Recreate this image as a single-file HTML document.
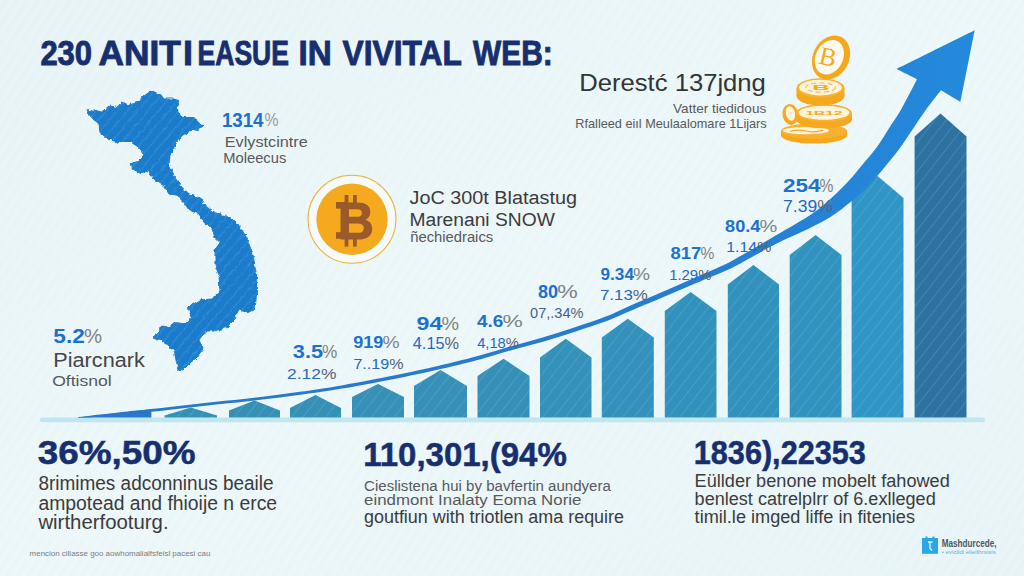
<!DOCTYPE html>
<html lang="en"><head><meta charset="utf-8"><title>230 ANITIEASUE IN VIVITAL WEB</title>
<style>
html,body{margin:0;padding:0;background:#ecf6f9;}
body{width:1024px;height:576px;overflow:hidden;font-family:"Liberation Sans", sans-serif;}
svg{display:block;}
text{white-space:pre;}
</style></head><body>
<svg width="1024" height="576" viewBox="0 0 1024 576" font-family='"Liberation Sans", sans-serif'>
<defs>
<linearGradient id="bg" x1="0" y1="0" x2="1" y2="1">
<stop offset="0" stop-color="#e7f3f7"/><stop offset="0.5" stop-color="#ecf7f9"/><stop offset="1" stop-color="#e8f4f7"/>
</linearGradient>
<pattern id="hatch" width="9" height="9" patternUnits="userSpaceOnUse" patternTransform="rotate(-58)">
<rect x="0" y="0" width="9" height="2.2" fill="#ffffff" opacity="0.14"/>
<rect x="0" y="4.5" width="9" height="1" fill="#d5e8ef" opacity="0.10"/>
</pattern>
<pattern id="hatchbar" width="9" height="9" patternUnits="userSpaceOnUse" patternTransform="rotate(-52)">
<rect x="0" y="0" width="9" height="0.8" fill="#a8e4f6" opacity="0.2"/>
</pattern>
<linearGradient id="arrowg" gradientUnits="userSpaceOnUse" x1="80" y1="0" x2="975" y2="0">
<stop offset="0" stop-color="#2a76c9"/><stop offset="0.7" stop-color="#267dd2"/><stop offset="1" stop-color="#248adc"/>
</linearGradient>
<pattern id="hatchmap" width="8" height="8" patternUnits="userSpaceOnUse" patternTransform="rotate(-50)">
<rect x="0" y="0" width="8" height="1.1" fill="#7fc0f0" opacity="0.22"/>
</pattern>
<filter id="rough" x="-5%" y="-5%" width="110%" height="110%">
<feTurbulence type="fractalNoise" baseFrequency="0.22" numOctaves="2" seed="7" result="n"/>
<feDisplacementMap in="SourceGraphic" in2="n" scale="4.5" xChannelSelector="R" yChannelSelector="G"/>
</filter>
</defs>
<rect width="1024" height="576" fill="url(#bg)"/>
<rect width="1024" height="576" fill="url(#hatch)"/>
<g font-weight="bold" fill="#172f6e">
<text x="40.4" y="64.5" font-size="34.2" fill="#172f6e" font-weight="bold" textLength="51.7" lengthAdjust="spacingAndGlyphs" stroke="#172f6e" stroke-width="0.9">230</text>
<text x="98.6" y="64.5" font-size="34.2" fill="#172f6e" font-weight="bold" textLength="82.3" lengthAdjust="spacingAndGlyphs" stroke="#172f6e" stroke-width="0.9">ANIT</text>
<text x="182.9" y="64.5" font-size="34.2" fill="#172f6e" font-weight="bold" textLength="10.0" lengthAdjust="spacingAndGlyphs" stroke="#172f6e" stroke-width="0.9">I</text>
<text x="197.6" y="64.5" font-size="34.2" fill="#172f6e" font-weight="bold" textLength="91.3" lengthAdjust="spacingAndGlyphs" stroke="#172f6e" stroke-width="0.9">EASUE</text>
<text x="298.6" y="64.5" font-size="34.2" fill="#172f6e" font-weight="bold" textLength="33.3" lengthAdjust="spacingAndGlyphs" stroke="#172f6e" stroke-width="0.9">IN</text>
<text x="342.6" y="64.5" font-size="34.2" fill="#172f6e" font-weight="bold" textLength="119.3" lengthAdjust="spacingAndGlyphs" stroke="#172f6e" stroke-width="0.9">VIVITAL</text>
<text x="473.1" y="64.5" font-size="34.2" fill="#172f6e" font-weight="bold" textLength="79.6" lengthAdjust="spacingAndGlyphs" stroke="#172f6e" stroke-width="0.9">WEB:</text>
</g>
<polygon points="86.5,111.0 94.0,110.0 101.5,112.0 109.0,106.0 118.0,107.5 120.0,103.0 129.0,105.0 139.0,102.0 144.0,96.0 151.5,90.5 160.0,94.0 164.0,99.0 174.0,99.0 180.0,101.0 176.5,107.5 176.5,112.5 184.0,117.5 194.0,117.5 200.0,124.0 205.0,124.5 199.0,129.0 189.0,131.0 181.5,136.0 176.5,142.5 170.0,155.0 169.0,165.0 174.0,175.0 180.0,185.0 189.0,195.0 200.0,197.5 204.0,205.0 214.0,212.5 226.5,216.0 239.0,225.0 246.5,237.5 253.0,255.0 256.5,275.0 256.5,295.0 255.0,309.0 248.0,312.5 239.0,310.0 234.0,320.0 226.5,327.5 214.0,331.0 205.0,331.0 199.0,340.0 203.0,349.0 196.5,357.5 189.0,364.0 183.0,370.0 178.0,369.0 176.5,362.5 174.0,350.0 163.0,341.0 153.0,337.0 159.0,332.5 161.5,326.0 169.0,327.5 174.0,322.5 186.5,324.0 191.5,317.5 188.0,307.5 200.0,300.0 211.5,299.0 220.0,291.0 219.0,275.0 215.0,265.0 215.0,250.0 220.0,242.5 215.0,237.5 211.5,227.5 204.0,222.5 199.0,214.0 189.0,210.0 184.0,202.5 176.5,195.0 169.0,194.0 164.0,186.0 154.0,179.0 148.0,171.0 141.5,174.0 133.0,169.0 130.0,164.0 139.0,161.0 145.0,155.0 139.0,147.5 131.5,142.5 119.0,142.5 108.0,139.0 100.0,132.5 99.0,124.0 91.5,117.5" fill="#1e7ccc" stroke="#1e7ccc" stroke-width="1" stroke-linejoin="round" filter="url(#rough)"/>
<polygon points="86.5,111.0 94.0,110.0 101.5,112.0 109.0,106.0 118.0,107.5 120.0,103.0 129.0,105.0 139.0,102.0 144.0,96.0 151.5,90.5 160.0,94.0 164.0,99.0 174.0,99.0 180.0,101.0 176.5,107.5 176.5,112.5 184.0,117.5 194.0,117.5 200.0,124.0 205.0,124.5 199.0,129.0 189.0,131.0 181.5,136.0 176.5,142.5 170.0,155.0 169.0,165.0 174.0,175.0 180.0,185.0 189.0,195.0 200.0,197.5 204.0,205.0 214.0,212.5 226.5,216.0 239.0,225.0 246.5,237.5 253.0,255.0 256.5,275.0 256.5,295.0 255.0,309.0 248.0,312.5 239.0,310.0 234.0,320.0 226.5,327.5 214.0,331.0 205.0,331.0 199.0,340.0 203.0,349.0 196.5,357.5 189.0,364.0 183.0,370.0 178.0,369.0 176.5,362.5 174.0,350.0 163.0,341.0 153.0,337.0 159.0,332.5 161.5,326.0 169.0,327.5 174.0,322.5 186.5,324.0 191.5,317.5 188.0,307.5 200.0,300.0 211.5,299.0 220.0,291.0 219.0,275.0 215.0,265.0 215.0,250.0 220.0,242.5 215.0,237.5 211.5,227.5 204.0,222.5 199.0,214.0 189.0,210.0 184.0,202.5 176.5,195.0 169.0,194.0 164.0,186.0 154.0,179.0 148.0,171.0 141.5,174.0 133.0,169.0 130.0,164.0 139.0,161.0 145.0,155.0 139.0,147.5 131.5,142.5 119.0,142.5 108.0,139.0 100.0,132.5 99.0,124.0 91.5,117.5" fill="url(#hatchmap)" filter="url(#rough)"/>
<rect x="40" y="417.5" width="945" height="4.7" rx="2.3" fill="#c0e6ef"/>
<polygon points="164.5,417.5 164.5,415.5 190.8,407.4 217.0,415.5 217.0,417.5" fill="#3690b6"/>
<polygon points="164.5,417.5 164.5,415.5 190.8,407.4 217.0,415.5 217.0,417.5" fill="url(#hatchbar)"/>
<polygon points="229.0,417.5 229.0,410.6 254.5,400.5 280.0,410.6 280.0,417.5" fill="#3690b6"/>
<polygon points="229.0,417.5 229.0,410.6 254.5,400.5 280.0,410.6 280.0,417.5" fill="url(#hatchbar)"/>
<polygon points="290.0,417.5 290.0,408.0 315.5,395.0 341.0,408.0 341.0,417.5" fill="#3690b6"/>
<polygon points="290.0,417.5 290.0,408.0 315.5,395.0 341.0,408.0 341.0,417.5" fill="url(#hatchbar)"/>
<polygon points="352.0,417.5 352.0,397.0 378.0,384.0 404.0,397.0 404.0,417.5" fill="#3690b7"/>
<polygon points="352.0,417.5 352.0,397.0 378.0,384.0 404.0,397.0 404.0,417.5" fill="url(#hatchbar)"/>
<polygon points="414.0,417.5 414.0,386.0 440.5,370.0 467.0,386.0 467.0,417.5" fill="#3690b7"/>
<polygon points="414.0,417.5 414.0,386.0 440.5,370.0 467.0,386.0 467.0,417.5" fill="url(#hatchbar)"/>
<polygon points="477.5,417.5 477.5,376.0 503.5,358.8 529.5,376.0 529.5,417.5" fill="#3590b8"/>
<polygon points="477.5,417.5 477.5,376.0 503.5,358.8 529.5,376.0 529.5,417.5" fill="url(#hatchbar)"/>
<polygon points="540.0,417.5 540.0,357.5 565.8,338.8 591.5,357.5 591.5,417.5" fill="#3491b9"/>
<polygon points="540.0,417.5 540.0,357.5 565.8,338.8 591.5,357.5 591.5,417.5" fill="url(#hatchbar)"/>
<polygon points="601.8,417.5 601.8,337.5 627.8,318.8 653.8,337.5 653.8,417.5" fill="#3391bb"/>
<polygon points="601.8,417.5 601.8,337.5 627.8,318.8 653.8,337.5 653.8,417.5" fill="url(#hatchbar)"/>
<polygon points="664.8,417.5 664.8,311.0 690.6,292.0 716.5,311.0 716.5,417.5" fill="#3292bc"/>
<polygon points="664.8,417.5 664.8,311.0 690.6,292.0 716.5,311.0 716.5,417.5" fill="url(#hatchbar)"/>
<polygon points="727.8,417.5 727.8,284.6 753.4,265.0 779.0,284.6 779.0,417.5" fill="#3292bd"/>
<polygon points="727.8,417.5 727.8,284.6 753.4,265.0 779.0,284.6 779.0,417.5" fill="url(#hatchbar)"/>
<polygon points="789.7,417.5 789.7,255.0 815.6,235.0 841.5,255.0 841.5,417.5" fill="#3293c0"/>
<polygon points="789.7,417.5 789.7,255.0 815.6,235.0 841.5,255.0 841.5,417.5" fill="url(#hatchbar)"/>
<polygon points="851.6,417.5 851.6,198.0 877.5,176.0 903.5,198.0 903.5,417.5" fill="#3195c6"/>
<polygon points="851.6,417.5 851.6,198.0 877.5,176.0 903.5,198.0 903.5,417.5" fill="url(#hatchbar)"/>
<polygon points="914.6,417.5 914.6,136.4 940.5,113.5 966.5,136.4 966.5,417.5" fill="#2e72a1"/>
<polygon points="914.6,417.5 914.6,136.4 940.5,113.5 966.5,136.4 966.5,417.5" fill="url(#hatchbar)"/>
<polygon points="79,417.5 151.4,409.3 151.4,417.5" fill="#2a76c9"/>
<path d="M79.0,417.2C79.0,417.2 92.2,415.5 99.9,414.6C107.6,413.7 116.3,412.6 124.9,411.7C133.4,410.8 138.7,410.4 151.2,409.0C163.8,407.6 183.3,405.3 200.4,403.4C217.6,401.5 237.8,399.6 254.3,397.7C270.9,395.7 285.2,393.9 299.8,391.8C314.4,389.8 324.2,388.5 341.7,385.4C359.2,382.3 386.7,377.0 404.7,373.3C422.6,369.6 436.9,366.1 449.6,363.2C462.2,360.2 470.1,358.2 480.5,355.3C490.9,352.4 501.5,348.9 512.0,345.9C522.4,342.9 533.0,340.3 543.4,337.2C553.8,334.2 564.1,330.8 574.3,327.4C584.6,324.0 595.9,320.4 605.2,316.8C614.5,313.2 620.7,309.8 630.0,305.7C639.4,301.7 651.0,296.8 661.5,292.3C671.9,287.7 682.5,282.9 692.9,278.4C703.3,273.8 717.0,268.0 723.8,264.9C730.5,261.9 725.7,264.4 733.5,260.0C741.3,255.6 757.8,246.1 770.7,238.5C783.6,230.9 800.8,221.3 811.0,214.5C821.2,207.7 825.7,203.1 832.0,197.5C838.3,191.9 843.6,186.4 848.8,180.8C854.0,175.2 858.1,169.9 863.0,164.0C867.9,158.1 873.5,151.6 878.0,145.4C882.5,139.2 886.2,132.6 890.0,126.7C893.8,120.8 896.3,117.9 900.8,110.0C905.3,102.1 917.0,79.2 917.0,79.2C917.0,79.2 896.6,69.0 896.6,69.0C896.6,69.0 974.7,30.3 974.7,30.3C974.7,30.3 960.6,101.9 960.6,101.9C960.6,101.9 941.0,90.3 941.0,90.3C941.0,90.3 930.5,103.6 925.8,110.0C921.1,116.4 917.5,122.2 913.0,128.8C908.5,135.4 903.6,143.1 898.8,149.6C894.0,156.1 889.2,161.8 884.0,168.0C878.8,174.2 873.0,181.4 867.5,187.0C862.0,192.6 856.7,196.9 850.8,201.7C844.9,206.5 839.1,211.4 832.0,216.0C824.9,220.6 817.6,224.2 808.0,229.0C798.4,233.8 786.2,238.6 774.3,244.7C762.4,250.8 744.5,261.3 736.5,265.6C728.5,269.9 733.1,267.5 726.2,270.5C719.3,273.5 705.6,279.2 695.1,283.6C684.7,288.1 674.1,292.7 663.5,297.1C653.0,301.6 641.4,306.3 632.0,310.3C622.5,314.2 616.2,317.5 606.8,321.0C597.4,324.5 586.0,328.0 575.7,331.4C565.3,334.8 555.0,338.1 544.6,341.2C534.1,344.2 523.6,346.7 513.0,349.7C502.5,352.7 492.0,356.2 481.5,359.1C471.1,361.9 463.1,363.9 450.4,366.8C437.7,369.8 423.4,373.1 405.3,376.7C387.3,380.3 359.8,385.6 342.3,388.6C324.8,391.6 314.8,392.8 300.2,394.8C285.6,396.8 271.2,398.6 254.7,400.5C238.1,402.4 217.9,404.3 200.8,406.2C183.6,408.1 164.2,410.4 151.6,411.8C138.9,413.1 133.7,413.5 125.1,414.3C116.6,415.1 107.8,416.0 100.1,416.6C92.4,417.2 82.6,417.9 79.0,418.0C75.5,418.1 79.0,417.2 79.0,417.2Z" fill="url(#arrowg)"/>
<circle cx="352" cy="219.3" r="44" fill="#f5fafb" stroke="#f2b13a" stroke-width="1.1"/>
<circle cx="352" cy="219.3" r="35.7" fill="#f5a91e"/>
<g fill="#9b5a2a">
<rect x="344.6" y="195" width="3.8" height="8"/><rect x="353" y="195" width="3.8" height="8"/>
<rect x="344.6" y="238" width="3.8" height="8.6"/><rect x="353" y="238" width="3.8" height="8.6"/>
<rect x="336" y="202" width="9" height="6.6"/><rect x="336" y="232.2" width="9" height="6.6"/>
</g>
<text x="337.7" y="238.8" font-size="51.5" fill="#9b5a2a" font-weight="bold" textLength="36.2" lengthAdjust="spacingAndGlyphs" stroke="#9b5a2a" stroke-width="1.2">B</text>
<g>
<rect x="781" y="131" width="66" height="4.5" fill="#f6a81c"/>
<ellipse cx="814" cy="135.5" rx="33" ry="8" fill="#f6a81c"/>
<ellipse cx="814" cy="131" rx="33" ry="7.6" fill="#f8b030"/>
<ellipse cx="806" cy="130.6" rx="23" ry="3.6" fill="#fef4dc"/>
<path d="M790 131.5q8 -2.5 16 -0.5t17 -0.6" stroke="#f6a81c" stroke-width="1.1" fill="none"/>
<ellipse cx="790.5" cy="114.5" rx="8" ry="10.5" fill="#f6a81c" transform="rotate(-12 790.5 114.5)"/>
<ellipse cx="790.5" cy="113.5" rx="4.6" ry="7.4" fill="#fef4dc" transform="rotate(-12 790.5 113.5)"/>
<rect x="796" y="113" width="56" height="6.5" fill="#f6a81c"/>
<ellipse cx="824" cy="119.5" rx="28" ry="8.8" fill="#f6a81c"/>
<ellipse cx="824" cy="113" rx="28" ry="8.8" fill="#f8b030"/>
<ellipse cx="824" cy="112.7" rx="25.4" ry="7" fill="#fef4dc"/>
<text x="805.4" y="116.0" font-size="11" fill="#f6a81c" font-weight="bold" textLength="37.2" lengthAdjust="spacingAndGlyphs" transform="translate(0 51) scale(1 0.55)">1B12</text>
<rect x="796.5" y="88" width="48" height="8" fill="#f6a81c"/>
<ellipse cx="820.5" cy="96" rx="24" ry="9.4" fill="#f6a81c"/>
<ellipse cx="820.5" cy="88" rx="24" ry="9.7" fill="#f8b030"/>
<ellipse cx="820.5" cy="87.6" rx="21.4" ry="7.8" fill="#fef4dc"/>
<ellipse cx="820.5" cy="87.6" rx="15" ry="4.6" fill="none" stroke="#f8b030" stroke-width="1" stroke-dasharray="5 3"/>
<text x="812.3" y="92.0" font-size="13" fill="#f6a81c" font-weight="bold" textLength="17.4" lengthAdjust="spacingAndGlyphs" transform="translate(0 39.5) scale(1 0.55)">B</text>
<g transform="rotate(27 831 57.5)">
<ellipse cx="831" cy="57.5" rx="18" ry="23" fill="#f6a81c"/>
<ellipse cx="829.4" cy="58" rx="13.6" ry="18" fill="#fffaf0"/>
</g>
<text x="819.5" y="65.5" font-family='"Liberation Serif", serif' font-size="25.5" fill="#f6a81c" transform="rotate(13 828 57)">B</text>
</g>
<text x="579.2" y="91.3" font-size="24.5" fill="#343436" font-weight="normal" textLength="186.7" lengthAdjust="spacingAndGlyphs">Derestć 137jdng</text>
<text x="673.1" y="112.5" font-size="13" fill="#58595b" font-weight="normal" textLength="93.1" lengthAdjust="spacingAndGlyphs">Vatter tiedidous</text>
<text x="575.3" y="128.3" font-size="13" fill="#58595b" font-weight="normal" textLength="191.4" lengthAdjust="spacingAndGlyphs">Rfalleed eiıl Meulaalomare 1Lijars</text>
<text x="409.5" y="203.8" font-size="18" fill="#3b3b3d" font-weight="normal" textLength="167.5" lengthAdjust="spacingAndGlyphs">JoC 300t Blatastug</text>
<text x="409.5" y="225.5" font-size="18" fill="#3b3b3d" font-weight="normal" textLength="145.3" lengthAdjust="spacingAndGlyphs">Marenani SNOW</text>
<text x="410.2" y="242.0" font-size="14" fill="#58595b" font-weight="normal" textLength="83.0" lengthAdjust="spacingAndGlyphs">ñechiedraics</text>
<text x="221.9" y="127.0" font-size="19.5" fill="#1c70cf" font-weight="bold" textLength="41.6" lengthAdjust="spacingAndGlyphs">1314</text>
<text x="264.6" y="126.0" font-size="19" fill="#9a9c9f" font-weight="normal" textLength="14.0" lengthAdjust="spacingAndGlyphs">%</text>
<text x="224.8" y="147.0" font-size="14.8" fill="#58595b" font-weight="normal" textLength="83.0" lengthAdjust="spacingAndGlyphs">Evlystcintre</text>
<text x="223.2" y="162.5" font-size="14" fill="#58595b" font-weight="normal" textLength="63.1" lengthAdjust="spacingAndGlyphs">Moleecus</text>
<text x="53.3" y="343.4" font-size="19.5" fill="#1c70cf" font-weight="bold" textLength="31.5" lengthAdjust="spacingAndGlyphs">5.2</text>
<text x="83.9" y="343.4" font-size="19.5" fill="#808285" font-weight="normal" textLength="18.1" lengthAdjust="spacingAndGlyphs">%</text>
<text x="53.3" y="366.9" font-size="19.4" fill="#454547" font-weight="normal" textLength="91.5" lengthAdjust="spacingAndGlyphs">Piarcnark</text>
<text x="52.2" y="385.6" font-size="14" fill="#58595b" font-weight="normal" textLength="59.5" lengthAdjust="spacingAndGlyphs">Oftisnol</text>
<text x="292.8" y="358.3" font-size="17.9" fill="#1c70cf" font-weight="bold" textLength="30.2" lengthAdjust="spacingAndGlyphs">3.5</text>
<text x="322.0" y="358.3" font-size="17.9" fill="#808285" font-weight="normal" textLength="15.3" lengthAdjust="spacingAndGlyphs">%</text>
<text x="287.0" y="379.4" font-size="15.3" fill="#2467c4" textLength="49.4" lengthAdjust="spacingAndGlyphs">2.12<tspan fill="#5b626e">%</tspan></text>
<text x="353.3" y="347.8" font-size="16.8" fill="#1c70cf" font-weight="bold" textLength="30.1" lengthAdjust="spacingAndGlyphs">919</text>
<text x="382.6" y="347.8" font-size="16.8" fill="#808285" font-weight="normal" textLength="17.1" lengthAdjust="spacingAndGlyphs">%</text>
<text x="353.4" y="369.3" font-size="15.3" fill="#2467c4" textLength="50.1" lengthAdjust="spacingAndGlyphs">7..19<tspan fill="#5b626e">%</tspan></text>
<text x="416.6" y="329.8" font-size="17.7" fill="#1c70cf" font-weight="bold" textLength="25.8" lengthAdjust="spacingAndGlyphs">94</text>
<text x="441.5" y="329.8" font-size="17.7" fill="#808285" font-weight="normal" textLength="17.6" lengthAdjust="spacingAndGlyphs">%</text>
<text x="412.8" y="349.3" font-size="15.6" fill="#2467c4" textLength="46.2" lengthAdjust="spacingAndGlyphs">4.15<tspan fill="#5b626e">%</tspan></text>
<text x="477.1" y="327.0" font-size="16.6" fill="#1c70cf" font-weight="bold" textLength="26.3" lengthAdjust="spacingAndGlyphs">4.6</text>
<text x="502.6" y="327.0" font-size="16.6" fill="#808285" font-weight="normal" textLength="20.3" lengthAdjust="spacingAndGlyphs">%</text>
<text x="477.2" y="348.3" font-size="15" fill="#2467c4" textLength="41.7" lengthAdjust="spacingAndGlyphs">4,18<tspan fill="#5b626e">%</tspan></text>
<text x="538.0" y="297.8" font-size="17.5" fill="#1c70cf" font-weight="bold" textLength="20.1" lengthAdjust="spacingAndGlyphs">80</text>
<text x="557.2" y="297.8" font-size="17.5" fill="#808285" font-weight="normal" textLength="20.5" lengthAdjust="spacingAndGlyphs">%</text>
<text x="530.1" y="318.0" font-size="15" fill="#3d5f96" textLength="53.4" lengthAdjust="spacingAndGlyphs">07,.34<tspan fill="#5b626e">%</tspan></text>
<text x="600.6" y="280.4" font-size="16" fill="#1c70cf" font-weight="bold" textLength="33.3" lengthAdjust="spacingAndGlyphs">9.34</text>
<text x="633.1" y="280.4" font-size="16" fill="#808285" font-weight="normal" textLength="17.0" lengthAdjust="spacingAndGlyphs">%</text>
<text x="600.0" y="300.2" font-size="14.3" fill="#2467c4" textLength="47.8" lengthAdjust="spacingAndGlyphs">7.13<tspan fill="#5b626e">%</tspan></text>
<text x="670.4" y="259.4" font-size="16.4" fill="#1c70cf" font-weight="bold" textLength="30.8" lengthAdjust="spacingAndGlyphs">817</text>
<text x="700.4" y="259.4" font-size="16.4" fill="#808285" font-weight="normal" textLength="13.9" lengthAdjust="spacingAndGlyphs">%</text>
<text x="669.2" y="279.8" font-size="14.4" fill="#2467c4" textLength="42.2" lengthAdjust="spacingAndGlyphs">1.29<tspan fill="#5b626e">%</tspan></text>
<text x="725.1" y="232.0" font-size="17" fill="#1c70cf" font-weight="bold" textLength="35.3" lengthAdjust="spacingAndGlyphs">80.4</text>
<text x="759.5" y="232.0" font-size="17" fill="#808285" font-weight="normal" textLength="17.8" lengthAdjust="spacingAndGlyphs">%</text>
<text x="726.2" y="251.7" font-size="14" fill="#2467c4" textLength="45.1" lengthAdjust="spacingAndGlyphs">1.14<tspan fill="#5b626e">%</tspan></text>
<text x="783.0" y="191.8" font-size="18" fill="#1c70cf" font-weight="bold" textLength="37.6" lengthAdjust="spacingAndGlyphs">254</text>
<text x="819.6" y="191.8" font-size="18" fill="#808285" font-weight="normal" textLength="13.9" lengthAdjust="spacingAndGlyphs">%</text>
<text x="783.1" y="212.2" font-size="16" fill="#2467c4" textLength="49.8" lengthAdjust="spacingAndGlyphs">7.39<tspan fill="#5b626e">%</tspan></text>
<text x="37.7" y="463.8" font-size="32.5" fill="#172f6e" font-weight="bold" textLength="157.9" lengthAdjust="spacingAndGlyphs" stroke="#172f6e" stroke-width="0.5">36%,50%</text>
<text x="38.4" y="490.0" font-size="19.6" fill="#3b3b3d" font-weight="normal" textLength="235.2" lengthAdjust="spacingAndGlyphs">8rimimes adconninus beaile</text>
<text x="38.4" y="509.5" font-size="19.6" fill="#3b3b3d" font-weight="normal" textLength="238.7" lengthAdjust="spacingAndGlyphs">ampotead and fhioije n erce</text>
<text x="38.4" y="528.8" font-size="19.6" fill="#3b3b3d" font-weight="normal" textLength="130.2" lengthAdjust="spacingAndGlyphs">wirtherfooturg.</text>
<text x="29.6" y="556.0" font-size="7.5" fill="#7a7c80" font-weight="normal" textLength="180.8" lengthAdjust="spacingAndGlyphs">mencion cillasse goo aowhomalialfsfeisl pacesi cau</text>
<text x="363.2" y="465.6" font-size="32.5" fill="#172f6e" font-weight="bold" textLength="203.6" lengthAdjust="spacingAndGlyphs" stroke="#172f6e" stroke-width="0.5">110,301,(94%</text>
<text x="364.1" y="491.3" font-size="15.5" fill="#58595b" font-weight="normal" textLength="246.7" lengthAdjust="spacingAndGlyphs">Cieslistena hui by bavfertin aundyera</text>
<text x="364.1" y="504.7" font-size="15.5" fill="#58595b" font-weight="normal" textLength="217.3" lengthAdjust="spacingAndGlyphs">eindmont Inalaty Eoma Norie</text>
<text x="364.0" y="523.4" font-size="18" fill="#3b3b3d" font-weight="normal" textLength="260.0" lengthAdjust="spacingAndGlyphs">goutfiun with triotlen ama require</text>
<text x="693.8" y="464.0" font-size="32.5" fill="#172f6e" font-weight="bold" textLength="172.0" lengthAdjust="spacingAndGlyphs" stroke="#172f6e" stroke-width="0.5">1836),22353</text>
<text x="694.6" y="486.5" font-size="18" fill="#3b3b3d" font-weight="normal" textLength="255.2" lengthAdjust="spacingAndGlyphs">Eüllder benone mobelt fahowed</text>
<text x="694.6" y="504.7" font-size="18" fill="#3b3b3d" font-weight="normal" textLength="241.1" lengthAdjust="spacingAndGlyphs">benlest catrelplrr of 6.exlleged</text>
<text x="694.6" y="523.4" font-size="18" fill="#3b3b3d" font-weight="normal" textLength="220.4" lengthAdjust="spacingAndGlyphs">timil.le imged liffe in fitenies</text>
<rect x="922" y="538" width="16" height="15.8" fill="#2aa7e6"/>
<rect x="925.5" y="536.5" width="2" height="3" fill="#2aa7e6"/><rect x="932.5" y="536.5" width="2" height="3" fill="#2aa7e6"/>
<path d="M928 542h4.5M930 542v6.5l2 2" stroke="#e8f6fd" stroke-width="1.3" fill="none"/>
<text x="941.8" y="547.0" font-size="10.4" fill="#4d5962" font-weight="bold" textLength="54.7" lengthAdjust="spacingAndGlyphs">Mashdurcede,</text>
<text x="941.7" y="554.3" font-size="4.6" fill="#5fb0e4" font-weight="normal" textLength="54.1" lengthAdjust="spacingAndGlyphs">• evicildl elielthrsisis</text>
</svg>
</body></html>
